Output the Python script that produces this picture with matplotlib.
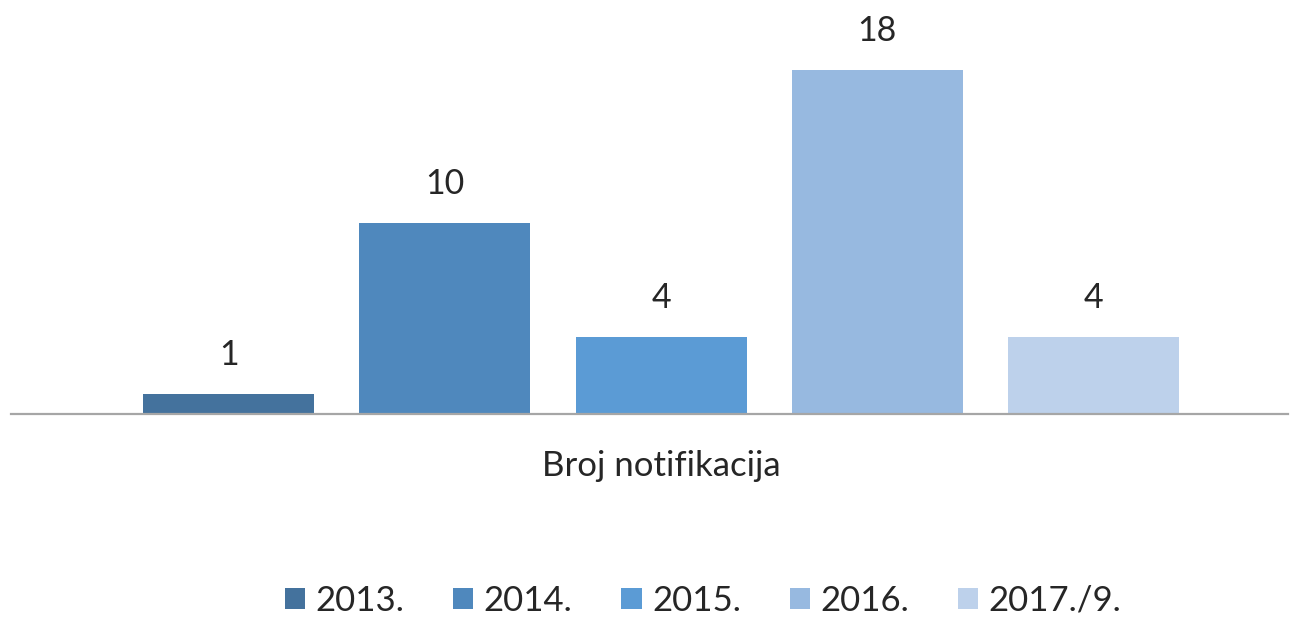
import matplotlib
matplotlib.use("Agg")
import matplotlib.pyplot as plt

# broj notifikacija po godinama
years = ["2013.", "2014.", "2015.", "2016.", "2017./9."]
counts = [1, 10, 4, 18, 4]
colors = ["#44729D", "#4F88BD", "#5B9BD5", "#97B9E0", "#BDD1EB"]
category = "Broj notifikacija"

plt.rcParams["font.family"] = ["Lato", "DejaVu Sans"]
TXT = "#262626"
FS = 24.5

fig = plt.figure(figsize=(12.97, 6.17), dpi=100)
ax = fig.add_axes([11 / 1297, 0.3298, (1288 - 11) / 1297, 0.9476 - 0.3298])

pos = list(range(len(years)))
bars = []
for i, (y, c, col) in enumerate(zip(years, counts, colors)):
    b = ax.bar(pos[i], c, width=0.791, color=col, label=y, zorder=2)
    bars.append(b)
    ax.annotate(str(c), (pos[i], c), xytext=(0, 21), textcoords="offset points",
                ha="center", va="baseline", fontsize=FS, color=TXT)

ax.set_xlim(-1.006, 4.899)
ax.set_ylim(0, 20)
ax.set_yticks([])
ax.set_xticks([2])
ax.set_xticklabels([category], fontsize=FS + 0.5, color=TXT)
ax.tick_params(axis="x", length=0, pad=26)
for s in ("top", "right", "left"):
    ax.spines[s].set_visible(False)
ax.spines["bottom"].set_color("#A6A6A6")
ax.spines["bottom"].set_linewidth(1.6)
ax.spines["bottom"].set_zorder(3)

leg = fig.legend(handles=bars, labels=years, loc="center", ncol=5,
                 bbox_to_anchor=(703 / 1297, 1 - 601 / 617), frameon=False,
                 fontsize=FS + 0.5, handlelength=0.59, handleheight=0.53,
                 handletextpad=0.3, columnspacing=1.4)
for t in leg.get_texts():
    t.set_color(TXT)

fig.savefig("out.png", dpi=100)
